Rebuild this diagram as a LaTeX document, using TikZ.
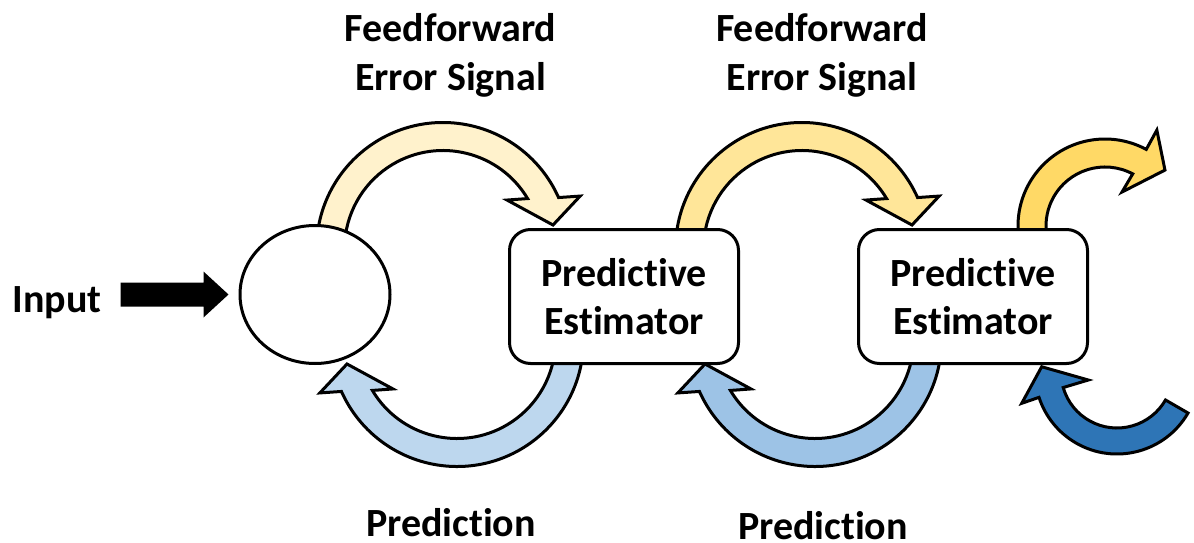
\documentclass[tikz,border=0pt]{standalone}
\usepackage{fontspec}
\setmainfont{Carlito}[Ligatures=NoCommon]
\usetikzlibrary{calc,shapes.geometric}
\definecolor{yelA}{HTML}{FFF2CC}
\definecolor{yelB}{HTML}{FFE699}
\definecolor{yelC}{HTML}{FFD966}
\definecolor{bluA}{HTML}{BDD7EE}
\definecolor{bluB}{HTML}{9DC3E6}
\definecolor{bluC}{HTML}{2E75B6}
% curved block arrow: #1 centre, #2 rotation, #3 fill colour
\newcommand{\feedarrow}[3]{%
  \filldraw[band, fill=#3]
    ($(#1)+({#2-175}:126.5)$) arc[start angle={#2-175}, end angle={#2-24}, radius=126.5]
    -- ($(#1)+({#2-21.1}:147)$)
    -- ($(#1)+({#2-12.3}:112.6)$)
    -- ($(#1)+({#2-37.4}:80.6)$)
    -- ($(#1)+({#2-30.8}:98.5)$) arc[start angle={#2-30.8}, end angle={#2-175}, radius=98.5]
    -- cycle;}
\begin{document}
\begin{tikzpicture}[x=1pt,y=-1pt,
  lbl/.style={font=\fontsize{40}{48}\selectfont\bfseries, inner sep=0pt, align=center},
  band/.style={draw=black, line width=3pt, line join=miter},
  estbox/.style={draw=black, line width=3pt, rounded corners=21pt, fill=white,
    minimum width=229pt, minimum height=134pt, inner sep=0pt, align=center,
    font=\fontsize{40}{48}\selectfont\bfseries},
  cellnode/.style={draw=black, line width=3pt, fill=white, ellipse,
    minimum width=150pt, minimum height=138pt, inner sep=0pt}]
\useasboundingbox (0,0) rectangle (1194,543);

% arc centres
\coordinate (cA) at (443,249);
\coordinate (cB) at (802,249);
\coordinate (cC) at (457,340);
\coordinate (cD) at (815,340);
\coordinate (cE) at (1105,226);
\coordinate (cF) at (1117,372);

% feedforward arrows (top)
\feedarrow{cA}{0}{yelA}
\feedarrow{cB}{0}{yelB}
% prediction arrows (bottom)
\feedarrow{cC}{180}{bluA}
\feedarrow{cD}{180}{bluB}

% outgoing arrow (top right)
\filldraw[band, fill=yelC]
  ($(cE)+(-185:87)$) arc[start angle=-185, end angle=-61.7, radius=87]
  -- ($(cE)+(-61.6:109)$)
  -- ($(cE)+(-43:82)$)
  -- ($(cE)+(-63.4:38)$)
  -- ($(cE)+(-62:59)$) arc[start angle=-62, end angle=-185, radius=59]
  -- cycle;

% incoming arrow (bottom right)
\filldraw[band, fill=bluC]
  ($(cF)+(30:82)$) arc[start angle=30, end angle=162, radius=82]
  -- ($(cF)+(161.8:100.3)$)
  -- ($(cF)+(184:75.5)$)
  -- ($(cF)+(164.4:29.8)$)
  -- ($(cF)+(163.9:56)$) arc[start angle=163.9, end angle=30, radius=56]
  -- cycle;

% nodes
\node[cellnode] (cell) at (315,294.5) {};
\node[estbox] (est1) at (624,296.5) {Predictive\\Estimator};
\node[estbox] (est2) at (973,296.5) {Predictive\\Estimator};

% input arrow
\node[lbl, anchor=base] (input) at (57,312) {Input};
\coordinate (inTip) at ($(cell.west)+(-10,0)$);
\fill[black] (inTip) -- ($(inTip)+(-25,-23)$) -- ($(inTip)+(-25,-12)$) -- ($(inTip)+(-108,-12)$)
  -- ($(inTip)+(-108,12)$) -- ($(inTip)+(-25,12)$) -- ($(inTip)+(-25,23)$) -- cycle;

% labels
\node[lbl, anchor=base] (ff1) at (450.5,90) {Feedforward\\Error Signal};
\node[lbl, anchor=base] (ff2) at (822,90) {Feedforward\\Error Signal};
\node[lbl, anchor=base] (pr1) at (451,536) {Prediction};
\node[lbl, anchor=base] (pr2) at (823,539) {Prediction};
\end{tikzpicture}
\end{document}
